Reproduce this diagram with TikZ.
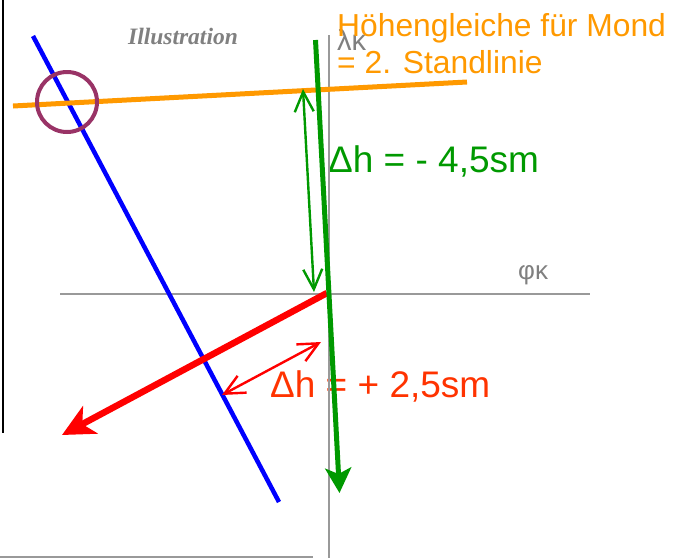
\documentclass[tikz,border=0pt]{standalone}
\usepackage{fontspec}
\setmainfont{Liberation Sans}
\newfontfamily\serifill{Liberation Serif}
\usetikzlibrary{arrows.meta}
\definecolor{orng}{HTML}{FF9900}
\definecolor{grn}{HTML}{009900}
\definecolor{redtxt}{HTML}{FF3300}
\definecolor{purp}{HTML}{993366}
\definecolor{axisgray}{HTML}{999999}
\definecolor{labelgray}{HTML}{808080}
\begin{document}
\begin{tikzpicture}[x=1pt,y=-1pt,
  axisline/.style={draw=axisgray,line width=2pt},
  thickline/.style={line width=#1,line cap=butt},
  thinarrow/.style={line width=2.4pt,{Straight Barb[length=20pt,width=19pt]}-{Straight Barb[length=20pt,width=19pt]}},
  lbl/.style={inner sep=0pt,anchor=base west}]
\useasboundingbox (0,0) rectangle (685,558);
% texts
\node[lbl,text=labelgray,font=\fontsize{29}{32}\selectfont] (lam) at (337,50) {λκ};
\node[lbl,text=labelgray,font=\fontsize{26}{30}\selectfont] (phi) at (518,279) {φκ};
\node[inner sep=0pt,anchor=base,text=labelgray,font=\serifill\bfseries\itshape\fontsize{23.5}{26}\selectfont] (ill) at (183,44) {Illustration};
\node[lbl,text=orng,font=\fontsize{31.8}{36}\selectfont] (t1) at (337,36) {Höhengleiche für Mond};
\node[lbl,text=orng,font=\fontsize{31.8}{36}\selectfont] (t2) at (337,73) {= 2. Standlinie};
\node[lbl,text=grn,font=\fontsize{37}{40}\selectfont] (dh1) at (328,172) {Δh = - 4,5sm};
\node[lbl,text=redtxt,font=\fontsize{37}{40}\selectfont] (dh2) at (270,397) {Δh = + 2,5sm};
% frame lines
\coordinate (bl1) at (3,0); \coordinate (bl2) at (3,433);
\draw[black,line width=2pt] (bl1) -- (bl2);
\coordinate (bg1) at (0,557); \coordinate (bg2) at (313,557);
\draw[axisline] (bg1) -- (bg2);
% axes
\coordinate (ax1) at (60,294); \coordinate (ax2) at (590,294);
\coordinate (ay1) at (329,35); \coordinate (ay2) at (329,558);
\draw[axisline] (ax1) -- (ax2);
\draw[axisline] (ay1) -- (ay2);
% blue line
\coordinate (b1) at (33,36); \coordinate (b2) at (279,502);
\draw[blue,thickline=4.5pt] (b1) -- (b2);
% orange line
\coordinate (o1) at (13,106); \coordinate (o2) at (467,82);
\draw[orng,thickline=5pt] (o1) -- (o2);
% circle
\node[draw=purp,line width=4pt,circle,minimum size=60pt,inner sep=0pt] (circ) at (67,102) {};
% red thick arrow
\coordinate (r1) at (327,293); \coordinate (r2) at (62,435);
\draw[red,line width=6.5pt,-{Stealth[length=32pt,width=31pt,inset=9pt]}] (r1) -- (r2);
% green thick arrow
\coordinate (g1) at (315.5,40); \coordinate (g2) at (339.5,493);
\draw[grn,line width=5pt,-{Stealth[length=25pt,width=26pt,inset=6pt]}] (g1) -- (g2);
% thin double arrows
\coordinate (ga1) at (303,89); \coordinate (ga2) at (314,292);
\draw[grn,thinarrow] (ga1) -- (ga2);
\coordinate (ra1) at (321,342); \coordinate (ra2) at (222,395);
\draw[red,thinarrow] (ra1) -- (ra2);
\end{tikzpicture}
\end{document}
